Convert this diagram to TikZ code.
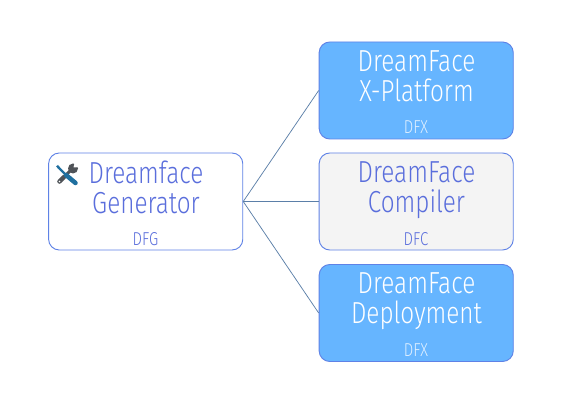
\documentclass[tikz,border=0pt]{standalone}
\usepackage{fontspec}
\setmainfont[FakeStretch=0.8]{Fira Sans Light}
\definecolor{edge}{HTML}{5F82E6}
\definecolor{ink}{HTML}{5A6EDC}
\definecolor{sky}{HTML}{66B5FF}
\definecolor{pale}{HTML}{F4F4F4}
\definecolor{conn}{HTML}{5B7FA8}
\definecolor{tealdark}{HTML}{1F6F9F}
\definecolor{greydark}{HTML}{4F5358}
\tikzset{
  x=0.75pt,y=-0.75pt,
  card/.style={draw=edge,line width=0.7pt,rounded corners=8pt,minimum width=145.6pt,minimum height=72.75pt,inner sep=0pt},
  plain/.style={card,fill=white},
  blue/.style={card,fill=sky},
  grey/.style={card,fill=pale},
  title/.style={font=\fontsize{22.8}{22.5}\selectfont,align=center,inner sep=0pt},
  tag/.style={font=\fontsize{14}{15}\selectfont,inner sep=0pt},
  conn/.style={draw=conn,line width=0.55pt}
}
\begin{document}
\begin{tikzpicture}
\useasboundingbox (0,0) rectangle (573,409);
\fill[white] (0,0) rectangle (573,409);
\node[plain] (g) at (145.7,201.5) {};
\node[blue] (x) at (416.2,90.5) {};
\node[grey] (c) at (416.2,201.5) {};
\node[blue] (d) at (416.2,313) {};
\draw[conn] (g.east) -- (x.west);
\draw[conn] (g.east) -- (c.west);
\draw[conn] (g.east) -- (d.west);
\node[title,text=ink] (gt) at (146,187.5) {Dreamface\\Generator};
\node[tag,text=ink] (gg) at (145.5,239) {DFG};
\node[title,text=white] (xt) at (416.5,76.5) {DreamFace\\X-Platform};
\node[tag,text=white!80!sky] (xg) at (416,127) {DFX};
\node[title,text=ink] (ct) at (416.5,190.5) {DreamFace\\Compiler};
\node[tag,text=ink] (cg) at (416,239) {DFC};
\node[title,text=white] (dt) at (416.5,301.5) {DreamFace\\Deployment};
\node[tag,text=white!80!sky] (dg) at (416,350) {DFX};
% tools icon
\draw[greydark,line width=3.4pt,line cap=round] (59.5,181.5) -- (64,177);
\fill[white] (59.5,181.5) circle (0.8);
\draw[greydark,line width=2.2pt] (64,177) -- (72,169);
\fill[greydark] (73,168.5) circle (5);
\fill[white] (73.5,167.5) -- (75,161) -- (81,161) -- (80,167) -- cycle;
\draw[tealdark,line width=1.6pt] (58,167) -- (65,174);
\fill[tealdark] (56,166.5) -- (58,165) -- (60,167.5) -- (58.5,169) -- cycle;
\draw[tealdark,line width=3.4pt,line cap=round] (66,175) -- (75.5,183);
\end{tikzpicture}
\end{document}
